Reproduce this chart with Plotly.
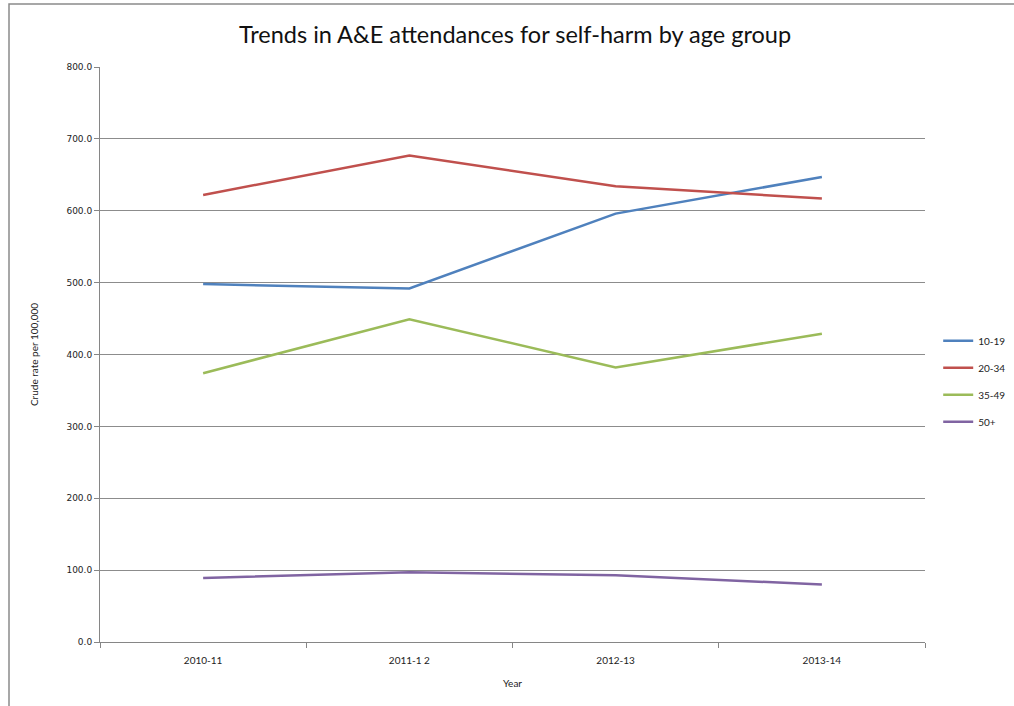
import plotly.graph_objects as go

years = ["2010-11", "2011-1 2", "2012-13", "2013-14"]
age_groups = ["10-19", "20-34", "35-49", "50+"]
rate_10_19 = [498.0, 492.0, 596.0, 647.0]
rate_20_34 = [622.0, 677.0, 634.0, 617.0]
rate_35_49 = [374.0, 449.0, 382.0, 429.0]
rate_50_plus = [89.0, 97.0, 93.0, 80.0]
y_ticks = [0, 100, 200, 300, 400, 500, 600, 700, 800]
y_tick_text = ["%.1f" % v for v in y_ticks]

series = [rate_10_19, rate_20_34, rate_35_49, rate_50_plus]
colors = ["#4F81BD", "#C0504D", "#9BBB59", "#8064A2"]

fig = go.Figure()
for i, (name, vals, col) in enumerate(zip(age_groups, series, colors)):
    fig.add_trace(go.Scatter(
        x=years, y=vals, name=name, mode="lines",
        line=dict(color=col, width=2.5),
        legendgroup=f"g{i}",
    ))

fig.update_layout(
    width=1014, height=706,
    margin=dict(l=100, r=89, t=67, b=64, autoexpand=False),
    paper_bgcolor="white", plot_bgcolor="white",
    title=dict(text="Trends in A&E attendances for self-harm by age group",
               x=515/1014, xanchor="center", y=1-35/706, yanchor="middle",
               font=dict(family="Lato", size=23.5, color="#111111")),
    showlegend=True,
    legend=dict(x=1.016, xanchor="left", y=0.549, yanchor="top",
                font=dict(family="Lato", size=10, color="#222222"),
                traceorder="grouped", tracegroupgap=8, itemwidth=30,
                bgcolor="rgba(0,0,0,0)"),
    xaxis=dict(
        type="category", tickson="boundaries", range=[-0.5, 3.5],
        showgrid=False, showline=True, linecolor="#868686", linewidth=1,
        ticks="outside", ticklen=5, tickcolor="#868686",
        ticklabelstandoff=9,
        tickfont=dict(family="Lato", size=10, color="#222222"),
        title=dict(text="Year", font=dict(family="Lato", size=10, color="#222222"), standoff=14),
        zeroline=False,
    ),
    yaxis=dict(
        range=[0, 800], tickvals=y_ticks, ticktext=y_tick_text,
        showgrid=True, gridcolor="#8C8C8C", gridwidth=1,
        showline=True, linecolor="#868686", linewidth=1,
        ticks="outside", ticklen=5, tickcolor="#868686",
        tickfont=dict(family="DejaVu Sans", size=9, color="#222222"),
        title=dict(text="Crude rate per 100,000", font=dict(family="Lato", size=10, color="#222222"), standoff=25),
        zeroline=False,
    ),
    shapes=[dict(type="rect", xref="paper", yref="paper",
                 x0=(9-100)/825, x1=1.3, y0=-0.3, y1=(642-4)/575,
                 line=dict(color="#8A8A8A", width=1.5), fillcolor="rgba(0,0,0,0)", layer="below")],
)

fig.write_html("out.html")
